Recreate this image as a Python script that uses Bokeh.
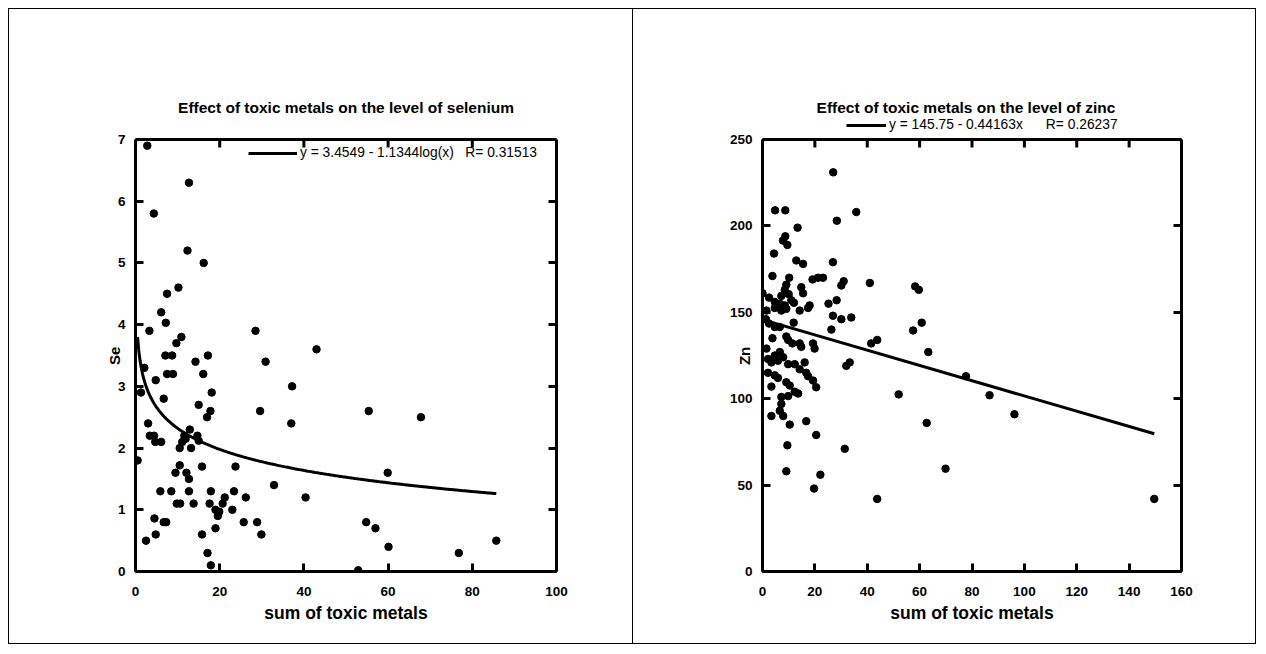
import numpy as np
from bokeh.plotting import figure
from bokeh.models import Label, Legend, LegendItem, LinearAxis, Range1d, Span
from bokeh.layouts import row
from bokeh.embed import file_html
from bokeh.resources import INLINE

# ---------------- data ----------------
se_x = [2.8, 12.7, 4.35, 12.35, 16.2, 10.2, 7.5, 6.1, 7.2, 3.3, 28.5, 10.9, 9.7, 43.0,
        7.1, 8.7, 17.2, 14.25, 30.9, 2.1, 7.5, 8.9, 16.1, 4.8, 37.2, 1.3, 18.1, 6.7,
        15.0, 17.8, 29.6, 17.0, 37.0, 3.0, 12.9, 3.4, 4.4, 11.6, 14.7, 4.7, 6.1, 11.9,
        15.0, 11.1, 10.5, 13.2, 0.5, 10.5, 15.8, 23.75, 9.5, 12.1, 12.7, 32.9, 5.9, 8.5,
        12.7, 17.9, 23.4, 21.2, 26.2, 40.4, 9.8, 10.6, 13.8, 17.6, 20.7, 19.0, 19.9, 23.0,
        19.55, 4.5, 6.7, 7.3, 25.7, 28.9, 19.0, 4.8, 15.8, 29.9, 2.5, 17.1, 17.9, 55.4,
        67.8, 59.9, 54.8, 57.0, 60.1, 76.8, 85.7, 52.9]
se_y = [6.9, 6.3, 5.8, 5.2, 5.0, 4.6, 4.5, 4.2, 4.03, 3.9, 3.9, 3.8, 3.7, 3.6,
        3.5, 3.5, 3.5, 3.4, 3.4, 3.3, 3.2, 3.2, 3.2, 3.1, 3.0, 2.9, 2.9, 2.8,
        2.7, 2.6, 2.6, 2.5, 2.4, 2.4, 2.3, 2.2, 2.2, 2.2, 2.2, 2.1, 2.1, 2.15,
        2.12, 2.1, 2.0, 2.0, 1.8, 1.72, 1.7, 1.7, 1.6, 1.6, 1.5, 1.4, 1.3, 1.3,
        1.3, 1.3, 1.3, 1.2, 1.2, 1.2, 1.1, 1.1, 1.1, 1.1, 1.1, 1.0, 0.97, 1.0,
        0.9, 0.86, 0.8, 0.8, 0.8, 0.8, 0.7, 0.6, 0.6, 0.6, 0.5, 0.3, 0.1, 2.6,
        2.5, 1.6, 0.8, 0.7, 0.4, 0.3, 0.5, 0.02]

zn_x = [27.0, 4.8, 8.7, 35.8, 28.4, 13.4, 8.7, 7.8, 9.5, 4.4, 26.9, 12.9, 15.5, 3.8,
        10.2, 19.1, 21.2, 23.1, 31.0, 30.1, 41.0, 9.1, 8.5, 14.8, 15.5, 58.3, 59.7, 0.0,
        2.5, 4.7, 7.2, 10.0, 11.0, 12.0, 6.6, 8.5, 18.0, 25.2, 28.3, 1.5, 4.7, 7.2,
        9.1, 14.2, 17.4, 26.9, 30.1, 33.9, 1.3, 2.5, 11.9, 4.7, 6.6, 26.3, 60.8, 57.5,
        3.8, 9.1, 9.8, 11.4, 14.2, 14.8, 19.3, 19.9, 41.5, 43.8, 63.3, 1.5, 2.1, 4.7,
        6.6, 7.9, 3.4, 5.9, 9.8, 12.3, 16.1, 33.3, 32.0, 14.2, 16.7, 17.4, 2.1, 4.7,
        5.9, 19.3, 20.5, 9.1, 10.4, 3.4, 12.3, 13.6, 52.0, 7.2, 9.8, 7.2, 6.6, 7.9,
        3.4, 10.4, 16.7, 62.7, 20.5, 9.5, 31.4, 9.1, 22.1, 19.7, 43.8, 77.7, 86.7, 96.2,
        69.9, 149.6]
zn_y = [231, 209, 209, 208, 203, 199, 194, 191.5, 189, 184, 179, 180, 178, 171,
        170, 169, 170, 170, 168, 165.5, 167, 166, 163, 164.5, 161, 165, 163, 161,
        158.5, 156, 159.5, 160.5, 157, 155.5, 155, 154, 154, 155, 157, 151, 152.5, 151,
        152, 151, 152.5, 148, 146, 147, 146, 143.5, 144, 141.5, 141.5, 140, 144, 139.5,
        135, 136, 134, 132, 132, 130, 132, 129, 132, 134, 127, 129, 123, 125,
        127, 124, 121, 122, 120, 120, 121, 121, 119, 117, 115, 113, 115, 113.5,
        112, 110.5, 106.6, 109.5, 107.6, 107, 104, 103, 102.5, 101, 101.5, 97, 93, 90,
        90, 85, 87, 86, 79, 73, 71, 58, 56, 48, 42, 113, 102, 91,
        59.5, 42]

# fitted models given in the legends
se_a, se_b, se_r = 3.4549, 1.1344, 0.31513
zn_a, zn_b, zn_r = 145.75, 0.44163, 0.26237

se_xticks = [0, 20, 40, 60, 80, 100]
se_yticks = [0, 1, 2, 3, 4, 5, 6, 7]
zn_xticks = [0, 20, 40, 60, 80, 100, 120, 140, 160]
zn_yticks = [0, 50, 100, 150, 200, 250]

titles = ["Effect of toxic metals on the level of selenium",
          "Effect of toxic metals on the level of zinc"]
x_label = "sum of toxic metals"
y_labels = ["Se", "Zn"]

FONT = "Liberation Sans"
NB = "\u00a0"

# layout (pixels)
FIG_H = 636
BT, BB = 60, 74                 # space above / below the drawing area
FRAME_H = FIG_H - BT - BB       # frame incl. title strip
AX_H = 432                      # height of the real axes box
TICK = 8
YLAB_PAD = 17                   # trailing no-break spaces: centre the y label on the axes box


def style_axis(ax, ticks, bounds=None):
    ax.ticker = ticks
    if bounds is not None:
        ax.bounds = bounds
    ax.axis_line_width = 3
    ax.axis_line_color = "black"
    ax.major_tick_line_width = 3
    ax.major_tick_line_color = "black"
    ax.major_tick_in = TICK
    ax.major_tick_out = 0
    ax.minor_tick_line_color = None
    ax.major_label_text_font = FONT
    ax.major_label_text_font_style = "bold"
    ax.major_label_text_color = "black"
    ax.major_label_text_font_size = "13.5px"
    ax.major_label_standoff = 10


def make_panel(width, bl, br, xmax, ymax, xticks, yticks, title, title_dx,
               ylab, ylab_standoff, styles):
    ytop = ymax * FRAME_H / AX_H
    p = figure(width=width, height=FIG_H,
               x_range=Range1d(0, xmax), y_range=Range1d(0, ytop),
               output_backend="svg", toolbar_location=None, tools="",
               min_border_left=bl, min_border_right=br,
               min_border_top=BT, min_border_bottom=BB,
               styles=styles)
    p.outline_line_color = None
    p.grid.visible = False
    p.background_fill_color = "white"
    p.border_fill_color = "white"

    bx = p.below[0]
    style_axis(bx, xticks)
    bx.major_label_standoff = 15
    bx.axis_label = x_label
    bx.axis_label_text_font = FONT
    bx.axis_label_text_font_style = "bold"
    bx.axis_label_text_font_size = "17.5px"
    bx.axis_label_text_color = "black"
    bx.axis_label_standoff = 4

    ly = p.left[0]
    style_axis(ly, yticks, bounds=(0, ymax))
    ly.axis_label = ylab + NB * YLAB_PAD
    ly.axis_label_text_font = FONT
    ly.axis_label_text_font_style = "bold"
    ly.axis_label_text_font_size = "15px"
    ly.axis_label_text_color = "black"
    ly.axis_label_standoff = ylab_standoff

    ry = LinearAxis()
    style_axis(ry, yticks, bounds=(0, ymax))
    ry.major_label_text_color = None
    ry.major_label_text_font_size = "1px"
    ry.major_label_standoff = 0
    p.add_layout(ry, "right")

    # top edge of the axes box with inward ticks
    p.add_layout(Span(location=ymax, dimension="width", line_width=3, line_color="black"))
    dy = TICK * ytop / FRAME_H
    p.segment(x0=xticks, y0=[ymax] * len(xticks), x1=xticks, y1=[ymax - dy] * len(xticks),
              line_width=3, color="black")

    fw = width - bl - br
    p.add_layout(Label(x=fw / 2 + title_dx, y=AX_H + 32, x_units="screen", y_units="screen",
                       text=title, text_font=FONT, text_font_style="bold",
                       text_font_size="15.5px", text_align="center", text_baseline="middle",
                       text_color="black"))
    return p


def add_legend(p, renderer, label, x, y_center, glyph_w):
    leg = Legend(items=[LegendItem(label=label, renderers=[renderer])],
                 location=(x, y_center - 6), glyph_width=glyph_w, glyph_height=12,
                 label_height=12, label_standoff=3, padding=0, margin=0, spacing=0,
                 border_line_color=None, background_fill_alpha=0,
                 label_text_font=FONT, label_text_font_size="13.8px",
                 label_text_color="black")
    p.add_layout(leg)


# ---------------- left panel: selenium ----------------
p1 = make_panel(625, 126, 78, 100, 7, se_xticks, se_yticks, titles[0], 0,
                y_labels[0], -8, {"border": "1px solid black"})
p1.scatter(se_x, se_y, size=7.5, color="black")
fx = np.linspace(min(se_x), max(se_x), 300)
fy = se_a - se_b * np.log10(fx)
r1 = p1.line(fx, fy, line_width=3, color="black")
add_legend(p1, r1, f"y = {se_a} - {se_b}log(x){NB*3}R= {se_r}", 113, 417, 49)

# ---------------- right panel: zinc ----------------
p2 = make_panel(623, 129, 75, 160, 250, zn_xticks, zn_yticks, titles[1], -6,
                y_labels[1], -26,
                {"border-top": "1px solid black", "border-right": "1px solid black",
                 "border-bottom": "1px solid black"})
p2.scatter(zn_x, zn_y, size=7.5, color="black")
lx = np.array([min(zn_x), max(zn_x)])
ly2 = zn_a - zn_b * lx
r2 = p2.line(lx, ly2, line_width=3, color="black")
add_legend(p2, r2, f"y = {zn_a} - {zn_b}x{NB*6}R= {zn_r}", 84, 445, 40)

layout = row(p1, p2, styles={"margin-left": "8px", "margin-top": "8px"})
open("out.html", "w").write(file_html(layout, INLINE))
